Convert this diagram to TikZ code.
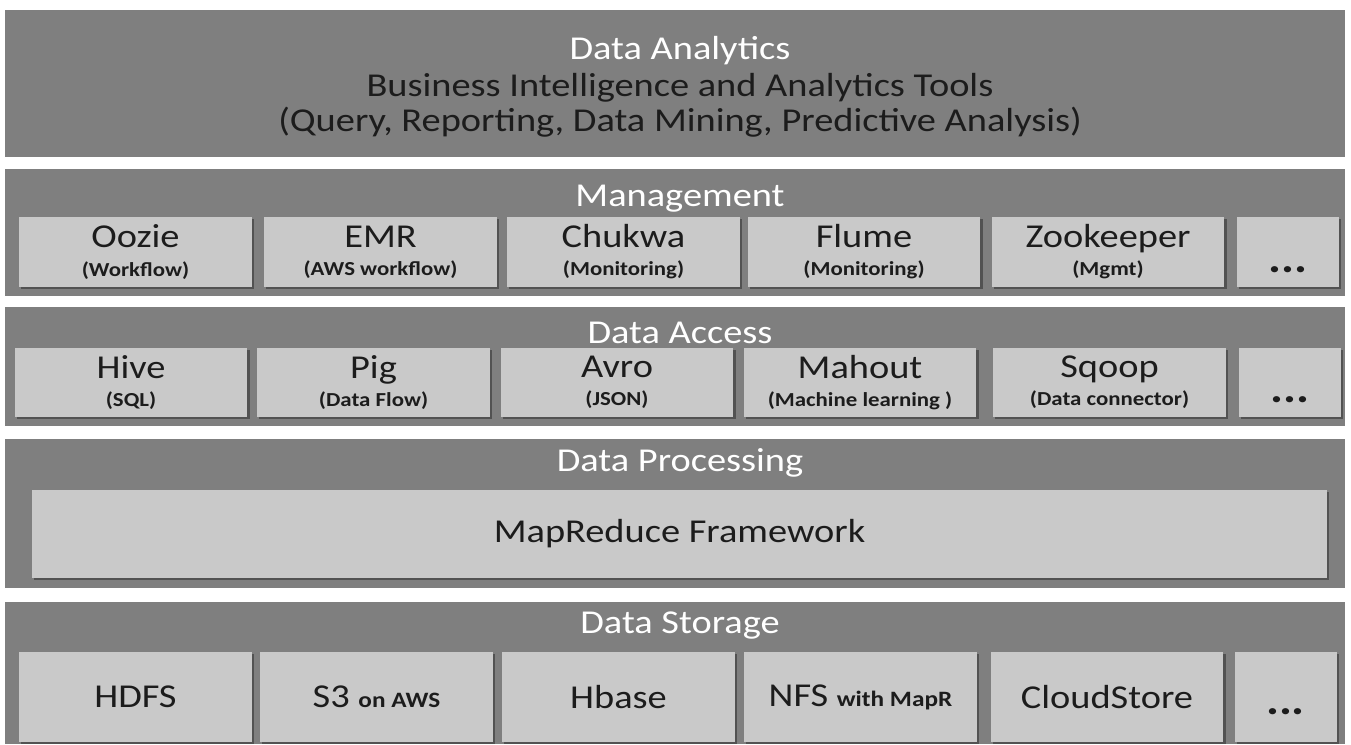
\documentclass[tikz,border=0pt]{standalone}
\usepackage{fontspec}
\setmainfont{Carlito}[FakeStretch=1.15]
\usetikzlibrary{shadows}

\definecolor{layergray}{HTML}{7F7F7F}
\definecolor{boxgray}{HTML}{C9C9C9}
\definecolor{inkgray}{HTML}{1C1C1C}

\newcommand{\subfont}{\fontsize{11.3}{13}\selectfont\bfseries}
\newcommand{\dotsfont}{\fontsize{24}{24}\selectfont\bfseries}

\begin{document}
\begin{tikzpicture}[x=0.02cm,y=-0.02cm,
	layer node/.style={rectangle,fill=layergray,minimum width=26.8cm,inner sep=0pt,outer sep=0pt,anchor=north west},
	layer label/.style={text=white,font=\fontsize{19}{22}\selectfont},
	tool node/.style={rectangle,fill=boxgray,text=inkgray,minimum width=4.66cm,inner sep=0pt,align=center,
		font=\fontsize{19}{20}\selectfont,
		drop shadow={shadow xshift=1.2pt,shadow yshift=-1.2pt,fill=black,opacity=0.35}},
	dots node/.style={tool node,minimum width=2.04cm}
]

	\useasboundingbox[fill=white] (0,0) rectangle (1351,744);

	% layers
	\node[layer node,minimum height=2.94cm] (analytics) at (5,10) {};
	\node[layer node,minimum height=2.54cm] (mgmt) at (5,169) {};
	\node[layer node,minimum height=2.38cm] (access) at (5,307) {};
	\node[layer node,minimum height=2.98cm] (proc) at (5,439) {};
	\node[layer node,minimum height=2.84cm] (storage) at (5,602) {};

	\node[layer label] (analytics title) at (680,51) {Data Analytics};
	\node[text=inkgray,font=\fontsize{19}{22}\selectfont] (bi tools) at (680,88) {Business Intelligence and Analytics Tools};
	\node[text=inkgray,font=\fontsize{19}{22}\selectfont] (bi tasks) at (680,122) {(Query, Reporting, Data Mining, Predictive Analysis)};

	\node[layer label] (mgmt title) at (680,199) {Management};
	\node[layer label] (access title) at (680,333) {Data Access};
	\node[layer label] (proc title) at (680,463) {Data Processing};
	\node[layer label] (storage title) at (680,626) {Data Storage};

	% management tools
	\foreach \nm/\cx/\ttl/\sub in {oozie/135.5/Oozie/Workflow, emr/380.5/EMR/AWS workflow,
		chukwa/623.5/Chukwa/Monitoring, flume/864/Flume/Monitoring, zookeeper/1108/Zookeeper/Mgmt} {
		\node[tool node,minimum height=1.4cm] (\nm) at (\cx,252) {\ttl\\[-4pt]{\subfont(\sub)}};
	}
	\node[dots node,minimum height=1.4cm] (mgmt dots) at (1288,252) {\vphantom{O}\\[-9pt]{\dotsfont...}};

	% data access tools
	\foreach \nm/\cx/\ttl/\sub in {hive/131/Hive/SQL, pig/373.5/Pig/Data Flow, avro/617/Avro/JSON,
		mahout/860/Mahout/Machine learning\ , sqoop/1109.5/Sqoop/Data connector} {
		\node[tool node,minimum height=1.38cm] (\nm) at (\cx,382.5) {\ttl\\[-4pt]{\subfont(\sub)}};
	}
	\node[dots node,minimum height=1.38cm] (access dots) at (1290,382.5) {\vphantom{O}\\[-9pt]{\dotsfont...}};

	% processing
	\node[tool node,minimum width=25.9cm,minimum height=1.76cm] (mapreduce) at (679.5,534) {MapReduce Framework};

	% storage
	\foreach \nm/\cx/\ttl in {hdfs/135.5/HDFS, s3/376.5/S3 {\subfont\fontsize{12.5}{14}\selectfont on AWS}, hbase/618.5/Hbase,
		nfs/860.5/NFS {\subfont\fontsize{12.5}{14}\selectfont with MapR}, cloudstore/1107/CloudStore} {
		\node[tool node,minimum height=1.8cm] (\nm) at (\cx,697) {\ttl};
	}
	\node[dots node,minimum height=1.8cm] (storage dots) at (1285.5,697) {\vphantom{O}\\[-12pt]{\dotsfont...}};

\end{tikzpicture}
\end{document}
